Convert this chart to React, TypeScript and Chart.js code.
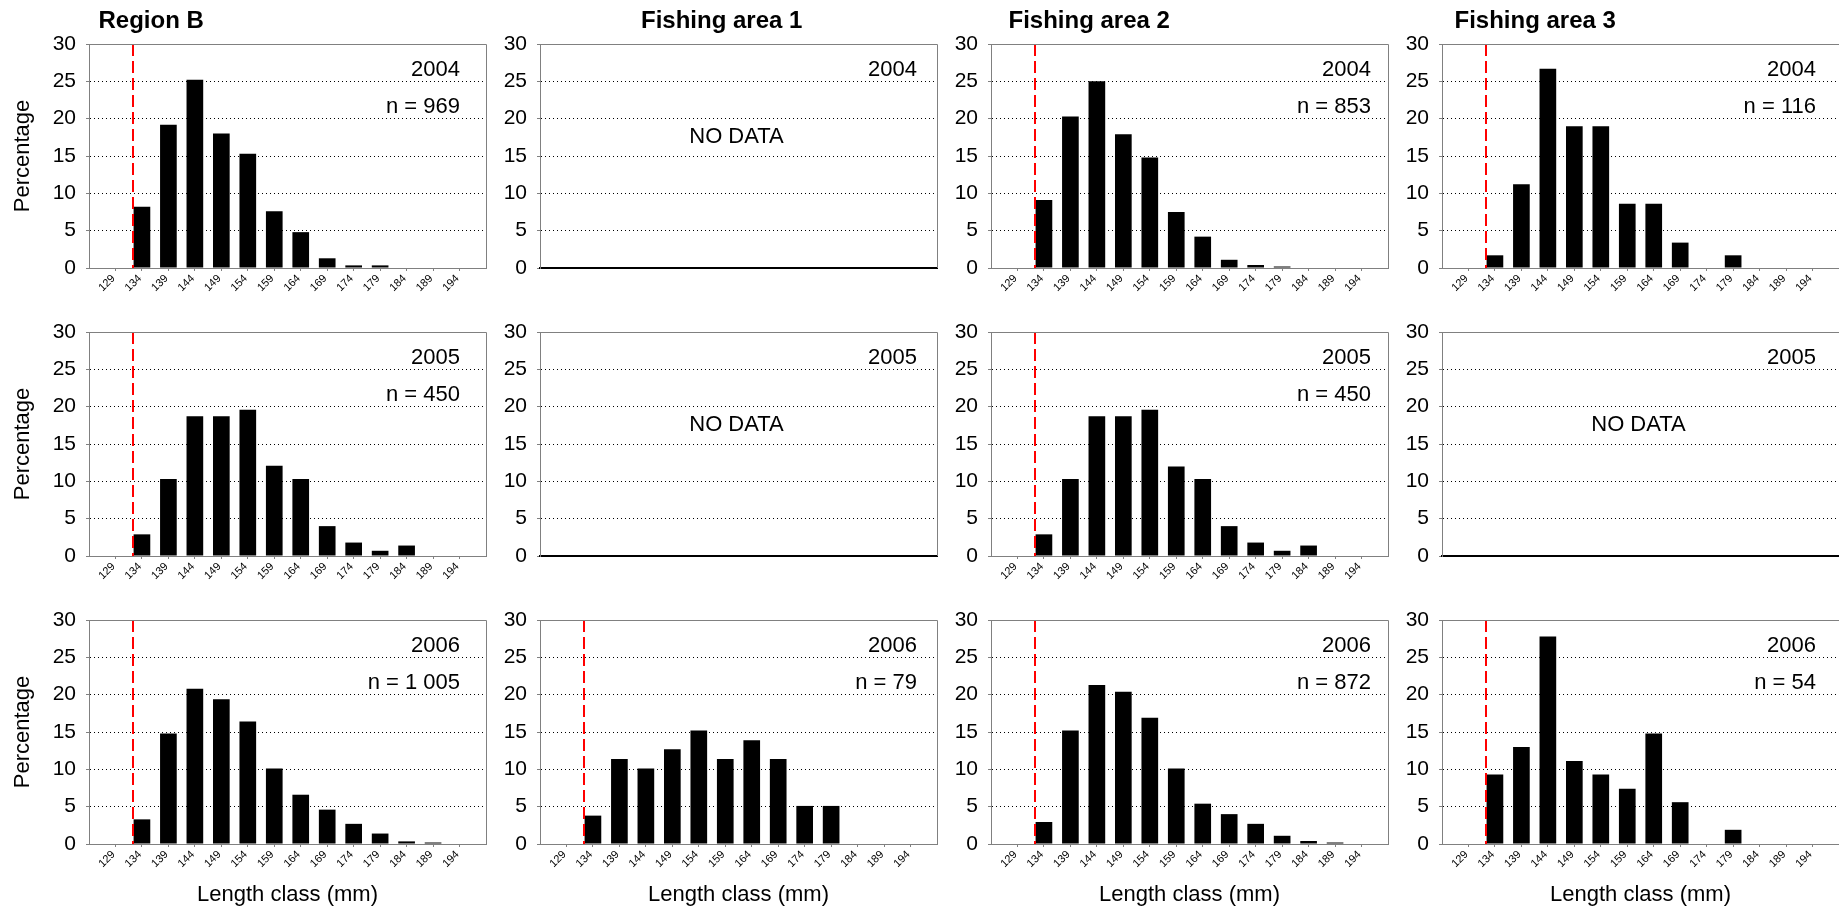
import React, { useEffect, useRef } from 'react';
import { Chart, registerables } from 'chart.js';

Chart.register(...registerables);

// ---------- data ----------
const lengthClasses = [129, 134, 139, 144, 149, 154, 159, 164, 169, 174, 179, 184, 189, 194];
const yTicks = [0, 5, 10, 15, 20, 25, 30];

const regionB2004 = [0, 8.2, 19.2, 25.2, 18.0, 15.3, 7.6, 4.8, 1.3, 0.35, 0.35, 0, 0, 0];
const regionB2005 = [0, 2.9, 10.3, 18.7, 18.7, 19.6, 12.1, 10.3, 4.0, 1.8, 0.7, 1.4, 0, 0];
const regionB2006 = [0, 3.3, 14.8, 20.8, 19.4, 16.4, 10.1, 6.6, 4.6, 2.7, 1.4, 0.35, 0.2, 0];
const area1_2006 = [0, 3.8, 11.4, 10.1, 12.7, 15.2, 11.4, 13.9, 11.4, 5.1, 5.1, 0, 0, 0];
const area2_2004 = [0, 9.1, 20.3, 25.0, 17.9, 14.8, 7.5, 4.2, 1.1, 0.4, 0.2, 0, 0, 0];
const area2_2005 = [0, 2.9, 10.3, 18.7, 18.7, 19.6, 12.0, 10.3, 4.0, 1.8, 0.7, 1.4, 0, 0];
const area2_2006 = [0, 2.95, 15.2, 21.3, 20.4, 16.9, 10.1, 5.4, 4.0, 2.7, 1.1, 0.4, 0.2, 0];
const area3_2004 = [0, 1.7, 11.2, 26.7, 19.0, 19.0, 8.6, 8.6, 3.4, 0, 1.7, 0, 0, 0];
const area3_2006 = [0, 9.3, 13.0, 27.8, 11.1, 9.3, 7.4, 14.8, 5.6, 0, 1.9, 0, 0, 0];

const areaTitles = ['Region B', 'Fishing area 1', 'Fishing area 2', 'Fishing area 3'];
const years = ['2004', '2005', '2006'];
const sampleSizes = [
  ['969', null, '853', '116'],
  ['450', null, '450', null],
  ['1 005', '79', '872', '54'],
];
const seriesGrid = [
  [regionB2004, null, area2_2004, area3_2004],
  [regionB2005, null, area2_2005, null],
  [regionB2006, area1_2006, area2_2006, area3_2006],
];
const minimumSizeMm = 132.4; // red dashed reference line

// ---------- layout / style ----------
const FONT = "Arial, 'Liberation Sans', sans-serif";
const AXIS_GRAY = '#808080';
const COL_LEFT = [89, 540, 991, 1442];
const ROW_TOP = [44, 332, 620];
const TITLE_DX = [9.5, 101, 17.5, 12.5];
const ANNOT_DX = [26, 20, 17, 23];
const CANVAS_W = 500;
const CANVAS_H = 335;
const AREA_LEFT = 89;
const AREA_TOP = 44;

const decorPlugin = {
  id: 'panelDecor',
  afterDatasetsDraw(chart: any, _args: any, o: any) {
    if (!o.showLimit) return;
    const { ctx, chartArea: a, scales } = chart;
    const first = lengthClasses[0];
    const step = lengthClasses[1] - lengthClasses[0];
    const idx = 1 + (minimumSizeMm - first) / step;
    const x = Math.round(scales.x.getPixelForValue(idx));
    ctx.save();
    ctx.strokeStyle = '#ff0000';
    ctx.lineWidth = 2;
    ctx.setLineDash([12, 5]);
    ctx.beginPath();
    ctx.moveTo(x, a.top);
    ctx.lineTo(x, a.bottom);
    ctx.stroke();
    ctx.restore();
  },
  afterDraw(chart: any, _args: any, o: any) {
    const { ctx, chartArea: a } = chart;
    ctx.save();
    ctx.setLineDash([]);
    ctx.strokeStyle = AXIS_GRAY;
    ctx.lineWidth = 1;
    ctx.beginPath();
    ctx.moveTo(a.left, a.top + 0.5);
    ctx.lineTo(a.right + 0.5, a.top + 0.5);
    ctx.lineTo(a.right + 0.5, a.bottom);
    ctx.stroke();

    ctx.fillStyle = '#000';
    ctx.font = `22px ${FONT}`;
    ctx.textAlign = 'right';
    ctx.textBaseline = 'alphabetic';
    ctx.fillText(o.year, a.right - o.annotDx, a.top + 32);
    if (o.n) ctx.fillText(`n = ${o.n}`, a.right - o.annotDx, a.top + 69);
    if (o.noData) {
      ctx.textAlign = 'center';
      ctx.textBaseline = 'middle';
      ctx.fillText('NO DATA', (a.left + a.right) / 2 - 2, a.top + 93);
    }
    if (o.title) {
      ctx.font = `bold 24px ${FONT}`;
      ctx.textAlign = 'left';
      ctx.textBaseline = 'alphabetic';
      ctx.fillText(o.title, a.left + o.titleDx, a.top - 16);
    }
    ctx.restore();
  },
};

function PanelChart({ row, col }: { row: number; col: number }) {
  const ref = useRef<HTMLCanvasElement>(null);
  const values = seriesGrid[row][col];
  useEffect(() => {
    const canvas = ref.current;
    if (!canvas) return;
    const hasData = !!values;
    const labels = ['', ...lengthClasses.map(String), ''];
    const lastIdx = labels.length - 1;
    const data = hasData ? [null, ...(values as number[]), null] : [];
    const chart = new Chart(canvas, {
      type: 'bar',
      data: {
        labels,
        datasets: hasData
          ? [
              {
                data,
                backgroundColor: '#000',
                borderWidth: 0,
                barPercentage: 0.63,
                categoryPercentage: 1,
              },
            ]
          : [],
      },
      options: {
        responsive: false,
        animation: false,
        events: [],
        layout: { padding: { left: 0, top: AREA_TOP, right: 14, bottom: 3 } },
        plugins: {
          legend: { display: false },
          tooltip: { enabled: false },
          title: { display: false },
          panelDecor: {
            showLimit: hasData,
            noData: !hasData,
            year: years[row],
            n: sampleSizes[row][col],
            title: row === 0 ? areaTitles[col] : null,
            titleDx: TITLE_DX[col],
            annotDx: ANNOT_DX[col],
          },
        } as any,
        scales: {
          x: {
            type: 'category',
            offset: false,
            grid: {
              display: true,
              offset: false,
              drawOnChartArea: false,
              drawTicks: hasData,
              tickLength: 3,
              color: 'rgba(0,0,0,0)',
              tickColor: (c: any) =>
                c.index === 0 || c.index === lastIdx ? 'rgba(0,0,0,0)' : AXIS_GRAY,
            },
            border: { display: true, color: hasData ? AXIS_GRAY : '#000', width: hasData ? 1 : 2 },
            ticks: {
              display: hasData,
              autoSkip: false,
              minRotation: 45,
              maxRotation: 45,
              padding: 1,
              labelOffset: -2,
              color: '#000',
              font: { family: FONT, size: 11 },
            },
            title: {
              display: row === 2,
              text: 'Length class (mm)',
              color: '#000',
              font: { family: FONT, size: 22 },
              padding: { top: 0, bottom: 0 },
            },
            afterFit: (s: any) => {
              s.height = 64;
            },
          },
          y: {
            type: 'linear',
            min: yTicks[0],
            max: yTicks[yTicks.length - 1],
            afterBuildTicks: (s: any) => {
              s.ticks = yTicks.map((v) => ({ value: v }));
            },
            ticks: {
              padding: 10,
              color: '#000',
              font: { family: FONT, size: 21 },
            },
            grid: {
              lineWidth: 1,
              tickLength: 3,
              color: (c: any) =>
                c.tick && (c.tick.value === yTicks[0] || c.tick.value === yTicks[yTicks.length - 1])
                  ? 'rgba(0,0,0,0)'
                  : '#000',
              tickColor: AXIS_GRAY,
            },
            border: { display: true, color: AXIS_GRAY, dash: [1, 3] },
            title: {
              display: col === 0,
              text: 'Percentage',
              color: '#000',
              font: { family: FONT, size: 22 },
              padding: { top: 10, bottom: 0 },
            },
            afterFit: (s: any) => {
              s.width = AREA_LEFT;
            },
          },
        },
      } as any,
      plugins: [decorPlugin as any],
    });
    return () => chart.destroy();
  }, [row, col, values]);

  return (
    <canvas
      ref={ref}
      width={CANVAS_W}
      height={CANVAS_H}
      style={{
        position: 'absolute',
        left: COL_LEFT[col] - AREA_LEFT,
        top: ROW_TOP[row] - AREA_TOP,
        width: CANVAS_W,
        height: CANVAS_H,
      }}
    />
  );
}

export default function App() {
  const cells: { row: number; col: number }[] = [];
  for (let r = 0; r < 3; r++) for (let c = 0; c < 4; c++) cells.push({ row: r, col: c });
  return (
    <div
      style={{
        position: 'absolute',
        left: 0,
        top: 0,
        width: 1839,
        height: 911,
        overflow: 'hidden',
        background: '#fff',
      }}
    >
      {cells.map((c) => (
        <PanelChart key={`${c.row}-${c.col}`} row={c.row} col={c.col} />
      ))}
    </div>
  );
}
